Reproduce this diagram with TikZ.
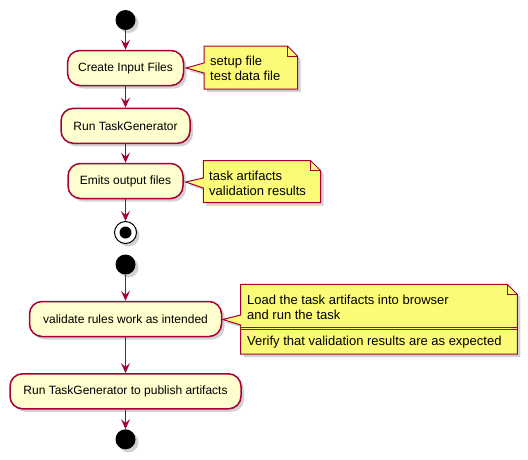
\documentclass[tikz,border=0pt]{standalone}
\usepackage{fontspec}
\setmainfont{Liberation Sans}
\usetikzlibrary{arrows.meta,shadows}
\definecolor{pumlred}{HTML}{A80036}
\definecolor{actfill}{HTML}{FEFECE}
\definecolor{notefill}{HTML}{FBFB77}
\begin{document}
\begin{tikzpicture}[x=1pt,y=-1pt,
  shadowed/.style={drop shadow={shadow xshift=3pt,shadow yshift=-3pt,opacity=0.3,fill=black!60}},
  act/.style={draw=pumlred,line width=1.5pt,fill=actfill,rounded corners=12.5pt,minimum height=35pt,inner sep=0pt,font=\fontsize{12}{14}\selectfont,shadowed},
  startnode/.style={circle,fill=black,minimum size=20pt,inner sep=0pt,shadowed},
  stopnode/.style={circle,draw=black,line width=1pt,fill=white,minimum size=22pt,inner sep=0pt,shadowed},
  flow/.style={draw=pumlred,line width=1pt,-{Stealth[length=10pt,width=9pt,inset=4pt]}},
  notebg/.style={draw=pumlred,line width=1pt,fill=notefill,shadowed},
  noteline/.style={draw=pumlred,line width=1pt},
  notetext/.style={anchor=west,align=left,inner sep=0pt,font=\fontsize{13}{15}\selectfont}
]
\path[use as bounding box] (0,0) rectangle (528,459);

% activities
\node[startnode] (s1) at (125.5,20) {};
\node[act,minimum width=116pt] (a1) at (125.5,68) {Create Input Files};
\node[act,minimum width=129pt] (a2) at (125.5,125.8) {Run TaskGenerator};
\node[act,minimum width=115pt] (a3) at (125.5,181) {Emits output files};
\node[stopnode] (e1) at (125.5,232.5) {};
\fill (e1.center) circle (6pt);
\node[startnode] (s2) at (125.5,264.5) {};
\node[act,minimum width=192pt] (a4) at (125.5,319) {validate rules work as intended};
\node[act,minimum width=231pt] (a5) at (125.5,391.3) {Run TaskGenerator to publish artifacts};
\node[startnode] (e2) at (125.5,439.3) {};

% flows
\draw[flow] (s1) -- (a1);
\draw[flow] (a1) -- (a2);
\draw[flow] (a2) -- (a3);
\draw[flow] (a3) -- (e1);
\draw[flow] (s2) -- (a4);
\draw[flow] (a4) -- (a5);
\draw[flow] (a5) -- (e2);

% note 1
\draw[notebg] (204,46) -- (287.5,46) -- (297.5,56) -- (297.5,89) -- (204,89) -- (204,73) -- (186,68) -- (204,63) -- cycle;
\draw[noteline] (287.5,46) -- (287.5,56) -- (297.5,56);
\node[notetext] (n1) at (210,68) {setup file\\test data file};

% note 2
\draw[notebg] (203.3,160.7) -- (310.7,160.7) -- (320.7,170.7) -- (320.7,202.7) -- (203.3,202.7) -- (203.3,188) -- (185.7,182) -- (203.3,178) -- cycle;
\draw[noteline] (310.7,160.7) -- (310.7,170.7) -- (320.7,170.7);
\node[notetext] (n2) at (209,183) {task artifacts\\validation results};

% note 3
\draw[notebg] (240.7,284.3) -- (507.3,284.3) -- (517.3,294.3) -- (517.3,354) -- (240.7,354) -- (240.7,325) -- (222.7,319.5) -- (240.7,315) -- cycle;
\draw[noteline] (507.3,284.3) -- (507.3,294.3) -- (517.3,294.3);
\draw[noteline] (240.7,327.3) -- (517.3,327.3);
\draw[noteline] (240.7,329.5) -- (517.3,329.5);
\node[notetext] (n3) at (247,307) {Load the task artifacts into browser\\and run the task};
\node[notetext] (n3b) at (247,341.7) {Verify that validation results are as expected};
\end{tikzpicture}
\end{document}
